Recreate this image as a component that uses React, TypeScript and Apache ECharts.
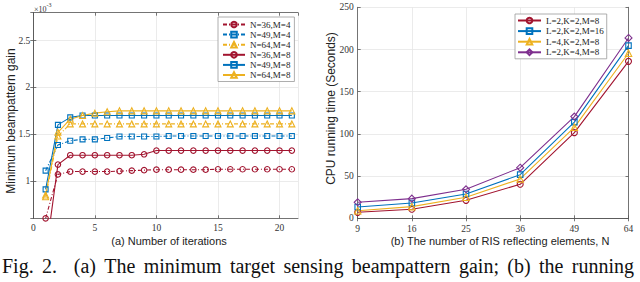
import React, { useEffect, useRef } from 'react';
import * as echarts from 'echarts';

// ---------- data ----------
const iterations = [1, 2, 3, 4, 5, 6, 7, 8, 9, 10, 11, 12, 13, 14, 15, 16, 17, 18, 19, 20, 21];
const gainN36M4 = [0.6, 1.07, 1.1, 1.1, 1.1, 1.1, 1.105, 1.11, 1.115, 1.12, 1.12, 1.12, 1.12, 1.12, 1.125, 1.125, 1.125, 1.125, 1.125, 1.125, 1.125];
const gainN49M4 = [1.11, 1.385, 1.43, 1.445, 1.445, 1.46, 1.475, 1.475, 1.475, 1.475, 1.48, 1.48, 1.48, 1.48, 1.48, 1.48, 1.48, 1.48, 1.48, 1.48, 1.48];
const gainN64M4 = [0.83, 1.48, 1.61, 1.61, 1.61, 1.61, 1.61, 1.61, 1.61, 1.61, 1.61, 1.61, 1.61, 1.61, 1.61, 1.61, 1.61, 1.61, 1.61, 1.61, 1.61];
const gainN36M8 = [0.2, 1.175, 1.275, 1.275, 1.275, 1.275, 1.275, 1.275, 1.285, 1.325, 1.325, 1.325, 1.325, 1.325, 1.325, 1.325, 1.325, 1.325, 1.325, 1.325, 1.325];
const gainN49M8 = [0.91, 1.6, 1.68, 1.7, 1.7, 1.7, 1.7, 1.7, 1.7, 1.7, 1.7, 1.7, 1.7, 1.7, 1.7, 1.7, 1.7, 1.7, 1.7, 1.7, 1.7];
const gainN64M8 = [0.85, 1.52, 1.66, 1.7, 1.725, 1.74, 1.75, 1.75, 1.75, 1.75, 1.75, 1.75, 1.75, 1.75, 1.75, 1.75, 1.75, 1.75, 1.75, 1.75, 1.75];

const elementCounts = ['9', '16', '25', '36', '49', '64'];
const cpuL2K2M8 = [7.1, 10.7, 21.3, 40.3, 101.5, 186];
const cpuL2K2M16 = [13.4, 18.2, 28.8, 51.7, 114, 204.6];
const cpuL4K2M8 = [9, 13.8, 24.9, 46.6, 107.8, 195.5];
const cpuL2K4M8 = [19, 23.3, 34.4, 60, 120.5, 213.7];

const captionWords = ['Fig.', '2.', '(a)', 'The', 'minimum', 'target', 'sensing', 'beampattern', 'gain;', '(b)', 'the', 'running'];

// ---------- style ----------
const RED = '#A2142F';
const BLUE = '#0072BD';
const YELLOW = '#EDB120';
const PURPLE = '#7E2F8E';
const AXIS = '#555555';
const LABEL = '#333333';
const GRIDC = '#e6e6e6';
const SERIF = '"Liberation Serif", "Times New Roman", serif';
const SANS = '"Liberation Sans", Arial, Helvetica, sans-serif';
const DASHDOT = [4, 2, 1, 2];

function mkSeries(name: string, data: any[], color: string, symbol: string, dashed: boolean, xi: number, yi: number, size: number) {
  return {
    type: 'line',
    name,
    data,
    xAxisIndex: xi,
    yAxisIndex: yi,
    symbol,
    symbolSize: size,
    showSymbol: true,
    clip: true,
    color,
    lineStyle: { color, width: 1.1, type: dashed ? DASHDOT : 'solid' },
    itemStyle: { color: 'rgba(255,255,255,0)', borderColor: color, borderWidth: 1.1 },
    emphasis: { disabled: true },
  };
}

function pairs(ys: number[]) {
  return iterations.map((x, i) => [x, ys[i]]);
}

function captionGraphics() {
  const fontSize = 20;
  const font = `${fontSize}px "Liberation Serif"`;
  const canvas = document.createElement('canvas');
  const ctx = canvas.getContext('2d')!;
  ctx.font = font;
  const widths = captionWords.map((w) => ctx.measureText(w).width);
  const total = widths.reduce((a, b) => a + b, 0);
  const startX = 2;
  const endX = 634;
  // gap after "2." is wider (LaTeX caption spacing)
  const weights = captionWords.slice(0, -1).map((_, i) => (i === 1 ? 2 : 1));
  const wsum = weights.reduce((a, b) => a + b, 0);
  const unit = (endX - startX - total) / wsum;
  const out: any[] = [];
  let x = startX;
  captionWords.forEach((w, i) => {
    out.push({
      type: 'text',
      x,
      y: 266,
      style: { text: w, font, fill: '#111', verticalAlign: 'middle', align: 'left' },
    });
    x += widths[i] + (i < weights.length ? weights[i] * unit : 0);
  });
  return out;
}

const leftGrid = { left: 33.3, top: 12.7, width: 264.7, height: 205.6 };
const rightGrid = { left: 357.7, top: 7.3, width: 270.8, height: 211 };

export default function App() {
  const ref = useRef<HTMLDivElement>(null);
  useEffect(() => {
    if (!ref.current) return;
    const chart = echarts.init(ref.current, undefined, { renderer: 'svg' });
    const axisLine = { show: true, lineStyle: { color: AXIS, width: 0.8 } };
    const tickIn = { show: true, inside: true, length: 3, lineStyle: { color: AXIS, width: 0.8 } };
    const labelStyle = { fontFamily: SERIF, fontSize: 9.5, color: LABEL };
    const splitLine = { show: true, lineStyle: { color: GRIDC, width: 0.8 } };

    const option: any = {
      animation: false,
      backgroundColor: '#ffffff',
      grid: [
        { ...leftGrid, containLabel: false },
        { ...rightGrid, containLabel: false },
      ],
      xAxis: [
        {
          type: 'value', gridIndex: 0, min: 0, max: 21.5, interval: 5, position: 'bottom',
          axisLine, axisTick: tickIn, splitLine,
          axisLabel: { ...labelStyle, margin: 5, showMaxLabel: false },
        },
        {
          type: 'value', gridIndex: 0, min: 0, max: 21.5, interval: 5, position: 'top',
          axisLine, axisTick: tickIn, splitLine: { show: false }, axisLabel: { show: false },
        },
        {
          type: 'category', gridIndex: 1, data: elementCounts, boundaryGap: false, position: 'bottom',
          axisLine, axisTick: { ...tickIn, alignWithLabel: true }, splitLine: { ...splitLine },
          axisLabel: { ...labelStyle, margin: 6, interval: 0 },
        },
        {
          type: 'category', gridIndex: 1, data: elementCounts, boundaryGap: false, position: 'top',
          axisLine, axisTick: { ...tickIn, alignWithLabel: true }, splitLine: { show: false }, axisLabel: { show: false },
        },
      ],
      yAxis: [
        {
          type: 'value', gridIndex: 0, min: 0.6, max: 2.8, splitNumber: 5, position: 'left',
          axisLine, axisTick: tickIn, splitLine,
          axisLabel: { ...labelStyle, margin: 3, showMinLabel: false, showMaxLabel: false },
        },
        {
          type: 'value', gridIndex: 0, min: 0.6, max: 2.8, splitNumber: 5, position: 'right',
          axisLine, axisTick: tickIn, splitLine: { show: false }, axisLabel: { show: false },
        },
        {
          type: 'value', gridIndex: 1, min: 0, max: 250, interval: 50, position: 'left',
          axisLine, axisTick: tickIn, splitLine,
          axisLabel: { ...labelStyle, margin: 4 },
        },
        {
          type: 'value', gridIndex: 1, min: 0, max: 250, interval: 50, position: 'right',
          axisLine, axisTick: tickIn, splitLine: { show: false }, axisLabel: { show: false },
        },
      ],
      legend: [
        {
          orient: 'vertical', left: 218, top: 17,
          data: ['N=36,M=4', 'N=49,M=4', 'N=64,M=4', 'N=36,M=8', 'N=49,M=8', 'N=64,M=8'],
          itemWidth: 22, itemHeight: 7, itemGap: 1.1,
          padding: [3, 4, 2, 4],
          backgroundColor: '#ffffff', borderColor: '#999999', borderWidth: 0.8,
          textStyle: { fontFamily: SERIF, fontSize: 9, color: '#222', lineHeight: 9 },
          selectedMode: false,
        },
        {
          orient: 'vertical', left: 515, top: 14,
          data: ['L=2,K=2,M=8', 'L=2,K=2,M=16', 'L=4,K=2,M=8', 'L=2,K=4,M=8'],
          itemWidth: 23, itemHeight: 7, itemGap: 1.6,
          padding: [2, 3, 2, 2],
          backgroundColor: '#ffffff', borderColor: '#999999', borderWidth: 0.8,
          textStyle: { fontFamily: SERIF, fontSize: 9, color: '#222', lineHeight: 9 },
          selectedMode: false,
        },
      ],
      series: [
        mkSeries('N=36,M=4', pairs(gainN36M4), RED, 'circle', true, 0, 0, 5.5),
        mkSeries('N=49,M=4', pairs(gainN49M4), BLUE, 'rect', true, 0, 0, 5),
        mkSeries('N=64,M=4', pairs(gainN64M4), YELLOW, 'triangle', true, 0, 0, 6),
        mkSeries('N=36,M=8', pairs(gainN36M8), RED, 'circle', false, 0, 0, 5.5),
        mkSeries('N=49,M=8', pairs(gainN49M8), BLUE, 'rect', false, 0, 0, 5),
        mkSeries('N=64,M=8', pairs(gainN64M8), YELLOW, 'triangle', false, 0, 0, 6),
        mkSeries('L=2,K=2,M=8', cpuL2K2M8, RED, 'circle', false, 2, 2, 6),
        mkSeries('L=2,K=2,M=16', cpuL2K2M16, BLUE, 'rect', false, 2, 2, 5.5),
        mkSeries('L=4,K=2,M=8', cpuL4K2M8, YELLOW, 'triangle', false, 2, 2, 6.5),
        mkSeries('L=2,K=4,M=8', cpuL2K4M8, PURPLE, 'diamond', false, 2, 2, 7),
      ],
      graphic: [
        {
          type: 'text', x: 34, y: 1,
          style: {
            text: '{b|×10}{s|-3}',
            rich: {
              b: { fontFamily: SERIF, fontSize: 8, fill: LABEL, padding: [4, 0, 0, 0] },
              s: { fontFamily: SERIF, fontSize: 6, fill: LABEL, padding: [0, 0, 4, 0] },
            },
          },
        },
        {
          type: 'text', x: 11, y: 121, rotation: Math.PI / 2,
          style: { text: 'Minimum beampattern gain', font: `12px ${SANS}`, fill: '#222', align: 'center', verticalAlign: 'middle' },
        },
        {
          type: 'text', x: 169, y: 241,
          style: { text: '(a) Number of iterations', font: `11px ${SANS}`, fill: '#222', align: 'center', verticalAlign: 'middle' },
        },
        {
          type: 'text', x: 331, y: 108.5, rotation: Math.PI / 2,
          style: { text: 'CPU running time (Seconds)', font: `12px ${SANS}`, fill: '#222', align: 'center', verticalAlign: 'middle' },
        },
        {
          type: 'text', x: 500, y: 241,
          style: { text: '(b) The number of RIS reflecting elements, N', font: `11px ${SANS}`, fill: '#222', align: 'center', verticalAlign: 'middle' },
        },
        ...captionGraphics(),
      ],
    };
    chart.setOption(option);
    return () => chart.dispose();
  }, []);
  return <div ref={ref} style={{ position: 'absolute', left: 0, top: 0, width: 640, height: 282 }} />;
}
